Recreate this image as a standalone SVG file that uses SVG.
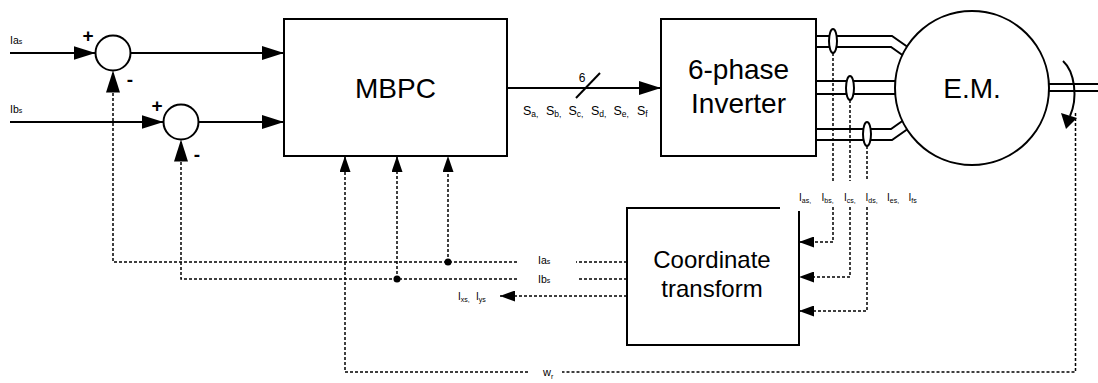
<svg xmlns="http://www.w3.org/2000/svg" width="1098" height="383" viewBox="0 0 1098 383">
  <style>
    text, tspan { font-family: "Liberation Sans", Arial, sans-serif; fill: #000; }
    .big { font-size: 28px; text-anchor: middle; }
    .mid { font-size: 24px; text-anchor: middle; }
    .lbl { font-size: 10.5px; }
    .sub { font-size: 7px; }
    .sgn { font-size: 19px; font-weight: bold; text-anchor: middle; }
    .box { fill: #fff; stroke: #000; stroke-width: 2; }
    .wire { fill: none; stroke: #000; stroke-width: 2; }
    .sig { fill: none; stroke: #000; stroke-width: 1.5; stroke-dasharray: 3 2; }
  </style>
  <defs>
    <marker id="arrowL" markerUnits="userSpaceOnUse" markerWidth="22" markerHeight="14" refX="22" refY="7" orient="auto">
      <path d="M0,0 L22,7 L0,14 z" fill="#000"/>
    </marker>
    <marker id="arrowS" markerUnits="userSpaceOnUse" markerWidth="16" markerHeight="11" refX="16" refY="5.5" orient="auto">
      <path d="M0,0 L16,5.5 L0,11 z" fill="#000"/>
    </marker>
    <marker id="arrowM" markerUnits="userSpaceOnUse" markerWidth="15" markerHeight="11" refX="15" refY="5.5" orient="auto">
      <path d="M0,0 L15,5.5 L0,11 z" fill="#000"/>
    </marker>
  </defs>

  <!-- connectors -->
  <g id="connectors">
    <!-- reference inputs into summing junctions -->
    <path class="wire" d="M10,53 H95.5" marker-end="url(#arrowL)"/>
    <path class="wire" d="M10,122 H163.5" marker-end="url(#arrowL)"/>
    <!-- errors into MBPC -->
    <path class="wire" d="M130.5,53 H284" marker-end="url(#arrowL)"/>
    <path class="wire" d="M198.5,122 H284" marker-end="url(#arrowL)"/>
    <!-- switching signals -->
    <path class="wire" d="M507,88 H661" marker-end="url(#arrowL)"/>
    <line class="wire" x1="576" y1="98" x2="600" y2="73" stroke-width="1.5"/>

    <!-- inverter phase leads -->
    <path class="wire" d="M816,36 H892 L912,50"/>
    <path class="wire" d="M816,47 H891 L908,59"/>
    <path class="wire" d="M816,81 H905"/>
    <path class="wire" d="M816,94 H905"/>
    <path class="wire" d="M816,129 H891 L908,117"/>
    <path class="wire" d="M816,140 H892 L912,126"/>

    <!-- shaft -->
    <path class="wire" d="M1045,84 H1098 M1045,91 H1098"/>
    <!-- rotation -->
    <path class="wire" d="M1063,61 C1075,72 1078,98 1070,116" stroke-width="1.5"/>
    <path d="M1066,129 L1061,113 L1077,118 z" fill="#000"/>

    <!-- current sensing -->
    <path class="sig" d="M833,53 V181"/>
    <path class="sig" d="M850,100 V181"/>
    <path class="sig" d="M867,146 V181"/>
    <path class="sig" d="M833,207 V242 H799" marker-end="url(#arrowM)"/>
    <path class="sig" d="M850,207 V277 H799" marker-end="url(#arrowM)"/>
    <path class="sig" d="M867,207 V311 H799" marker-end="url(#arrowM)"/>

    <!-- transformed currents -->
    <path class="sig" d="M627,262 H576"/>
    <path class="sig" d="M517,262 H113 V70.5" marker-end="url(#arrowL)"/>
    <path class="sig" d="M448,262 V156" marker-end="url(#arrowS)"/>
    <path class="sig" d="M627,279 H578"/>
    <path class="sig" d="M517,279 H181 V139.5" marker-end="url(#arrowL)"/>
    <path class="sig" d="M397,279 V156" marker-end="url(#arrowS)"/>
    <path class="sig" d="M627,296 H500" marker-end="url(#arrowM)"/>
    <circle cx="448" cy="262" r="3.5" fill="#000"/>
    <circle cx="397" cy="279" r="3.5" fill="#000"/>

    <!-- speed feedback -->
    <path class="sig" d="M1075.5,113 V372 H562"/>
    <path class="sig" d="M528,372 H345 V156" marker-end="url(#arrowS)"/>

    <!-- signal labels -->
    <text class="lbl" x="10" y="44">Ia<tspan class="sub">s</tspan></text>
    <text class="lbl" x="10" y="113">Ib<tspan class="sub">s</tspan></text>
    <text x="582" y="82" font-size="12" text-anchor="middle">6</text>
    <text font-size="12.5">
      <tspan x="523" y="115">S</tspan><tspan y="117" font-size="8.5">a,</tspan>
      <tspan x="546" y="115">S</tspan><tspan y="117" font-size="8.5">b,</tspan>
      <tspan x="568.5" y="115">S</tspan><tspan y="117" font-size="8.5">c,</tspan>
      <tspan x="591" y="115">S</tspan><tspan y="117" font-size="8.5">d,</tspan>
      <tspan x="613.5" y="115">S</tspan><tspan y="117" font-size="8.5">e,</tspan>
      <tspan x="637" y="115">S</tspan><tspan y="117" font-size="8.5">f</tspan>
    </text>
    <text font-size="10">
      <tspan x="799" y="201">I</tspan><tspan y="203" font-size="7">as,</tspan>
      <tspan x="821.5" y="201">I</tspan><tspan y="203" font-size="7">bs,</tspan>
      <tspan x="844" y="201">I</tspan><tspan y="203" font-size="7">cs,</tspan>
      <tspan x="865.5" y="201">I</tspan><tspan y="203" font-size="7">ds,</tspan>
      <tspan x="887" y="201">I</tspan><tspan y="203" font-size="7">es,</tspan>
      <tspan x="908.5" y="201">I</tspan><tspan y="203" font-size="7">fs</tspan>
    </text>
    <text class="lbl" x="538" y="264">Ia<tspan class="sub">s</tspan></text>
    <text class="lbl" x="538" y="283">Ib<tspan class="sub">s</tspan></text>
    <text font-size="10"><tspan x="458" y="300">I</tspan><tspan y="302" font-size="7">xs,</tspan><tspan x="476" y="300">I</tspan><tspan y="302" font-size="7">ys</tspan></text>
    <text font-size="11"><tspan x="543" y="376">w</tspan><tspan y="379" font-size="7">r</tspan></text>
  </g>

  <!-- summing junction a -->
  <g id="sum-a">
    <circle class="box" cx="113" cy="53" r="17.5"/>
    <text class="sgn" x="88" y="42">+</text>
    <text class="sgn" x="130" y="86">-</text>
  </g>

  <!-- summing junction b -->
  <g id="sum-b">
    <circle class="box" cx="181" cy="122" r="17.5"/>
    <text class="sgn" x="157" y="112">+</text>
    <text class="sgn" x="197" y="161">-</text>
  </g>

  <!-- predictive controller -->
  <g id="mbpc">
    <rect class="box" x="284" y="19" width="223" height="137"/>
    <text class="big" x="395.5" y="98">MBPC</text>
  </g>

  <!-- six-phase inverter -->
  <g id="inverter">
    <rect class="box" x="661" y="19" width="155" height="137"/>
    <text class="big" x="738.5" y="79">6-phase</text>
    <text class="big" x="738.5" y="113">Inverter</text>
  </g>

  <!-- current sensors -->
  <g id="sensors">
    <ellipse class="box" cx="833" cy="41" rx="4" ry="12"/>
    <ellipse class="box" cx="850" cy="88" rx="4" ry="12"/>
    <ellipse class="box" cx="867" cy="134" rx="4" ry="12"/>
  </g>

  <!-- electrical machine -->
  <g id="machine">
    <circle class="box" cx="972" cy="88" r="77"/>
    <text class="big" x="972" y="98">E.M.</text>
  </g>

  <!-- coordinate transform block -->
  <g id="transform">
    <path class="wire" d="M780,208 H627 V345 H799 V211"/>
    <text class="mid" x="712" y="268">Coordinate</text>
    <text class="mid" x="712" y="297">transform</text>
  </g>
</svg>
